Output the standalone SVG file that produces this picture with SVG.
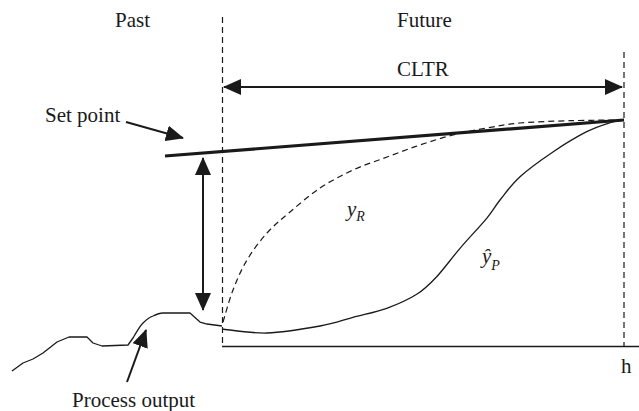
<svg xmlns="http://www.w3.org/2000/svg" width="639" height="411" viewBox="0 0 639 411">
<style>
.lbl{font-family:'Liberation Serif','Times New Roman','DejaVu Serif',serif;font-size:21px;fill:#1a1a1a}
.it{font-style:italic}
.thin{fill:none;stroke:#1a1a1a;stroke-width:1.3;stroke-linejoin:round}
.dash{fill:none;stroke:#1a1a1a;stroke-width:1.2;stroke-dasharray:6 4}
.arr{fill:none;stroke:#1a1a1a;stroke-width:2}
</style>
<defs>
<marker id="ah" viewBox="0 0 18 16" refX="17" refY="8" markerWidth="18" markerHeight="16" markerUnits="userSpaceOnUse" orient="auto-start-reverse">
<path d="M0,0 L18,8 L0,16 Z" fill="#1a1a1a"/>
</marker>
</defs>
<rect width="639" height="411" fill="#fff"/>
<g id="labels" font-family="Liberation Serif, Times New Roman, serif">
<text class="lbl" x="115" y="27">Past</text>
<text class="lbl" x="397" y="27">Future</text>
<text class="lbl" x="397" y="76">CLTR</text>
<text class="lbl" x="45" y="122">Set point</text>
<text class="lbl" x="72" y="407">Process output</text>
<text class="lbl" x="621" y="373">h</text>
<text class="lbl it" x="347" y="216">y<tspan font-size="14" dy="5">R</tspan></text>
<text class="lbl it" x="482" y="263">ŷ<tspan font-size="14" dy="7">P</tspan></text>
</g>
<g id="axes">
<line class="dash" x1="222.5" y1="17" x2="222.5" y2="346"/>
<line class="dash" x1="624" y1="52" x2="624" y2="346"/>
<line class="thin" x1="222" y1="346.5" x2="639" y2="346.5"/>
</g>
<g id="setpoint">
<line x1="165" y1="156" x2="624" y2="120" stroke="#1a1a1a" stroke-width="3.2"/>
</g>
<g id="curves">
<path id="process-output" class="thin" d="M12,371 L23,363 L33,359 L43,353 L57,342 L69,337 L87,337 L93,343 L102,346 L128,345 L133,338 C137,331 140,326 143,323 C147,319 150,317 153,316 C157,314 160,313 163,313 L190,313 L200,322 L207,324 L222,326"/>
<path id="y-hat-p" class="thin" d="M222,329 C229.5,329.7 250.7,333.5 267,333 C283.3,332.5 305.7,328.6 320,326 C334.3,323.4 341.9,320.3 353,317.3 C364.1,314.3 376.1,312.1 386.7,308.3 C397.3,304.5 408.4,299.6 416.7,294.3 C425,289 429.5,284.4 436.7,276.7 C443.9,269 451.7,258 460,248.3 C468.3,238.6 480,226.4 486.7,218.3 C493.4,210.3 494.5,206.9 500,200 C505.6,193.1 511.1,184.8 520,176.7 C528.9,168.6 542.2,159.2 553.3,151.7 C564.4,144.2 577.3,136.5 586.7,131.7 C596.2,126.9 603.8,124.6 610,122.7 C616.2,120.7 621.7,120.5 624,120"/>
<path id="y-r" class="dash" d="M223,322 C224.7,316.7 229,300.3 233,290 C237,279.7 241.3,269.5 247,260 C252.7,250.5 259.8,241 267,233 C274.2,225 281.2,219.5 290,212 C298.8,204.5 309.5,195 320,188 C330.5,181 341.8,175.2 353,170 C364.2,164.8 375.8,161.2 387,157 C398.2,152.8 409,148.7 420,145 C431,141.3 441.8,137.8 453,135 C464.2,132.2 475.8,130 487,128 C498.2,126 506.2,124.2 520,123 C533.8,121.8 552.7,121.2 570,120.7 C587.3,120.2 615,120.1 624,120"/>
</g>
<g id="connectors">
<line class="arr" x1="224" y1="87" x2="622" y2="87" marker-start="url(#ah)" marker-end="url(#ah)"/>
<line class="arr" x1="203" y1="158" x2="203" y2="310" marker-start="url(#ah)" marker-end="url(#ah)"/>
<line class="arr" x1="126" y1="122" x2="183" y2="138" marker-end="url(#ah)"/>
<line class="arr" x1="127" y1="382" x2="146" y2="330" marker-end="url(#ah)"/>
</g>
</svg>
